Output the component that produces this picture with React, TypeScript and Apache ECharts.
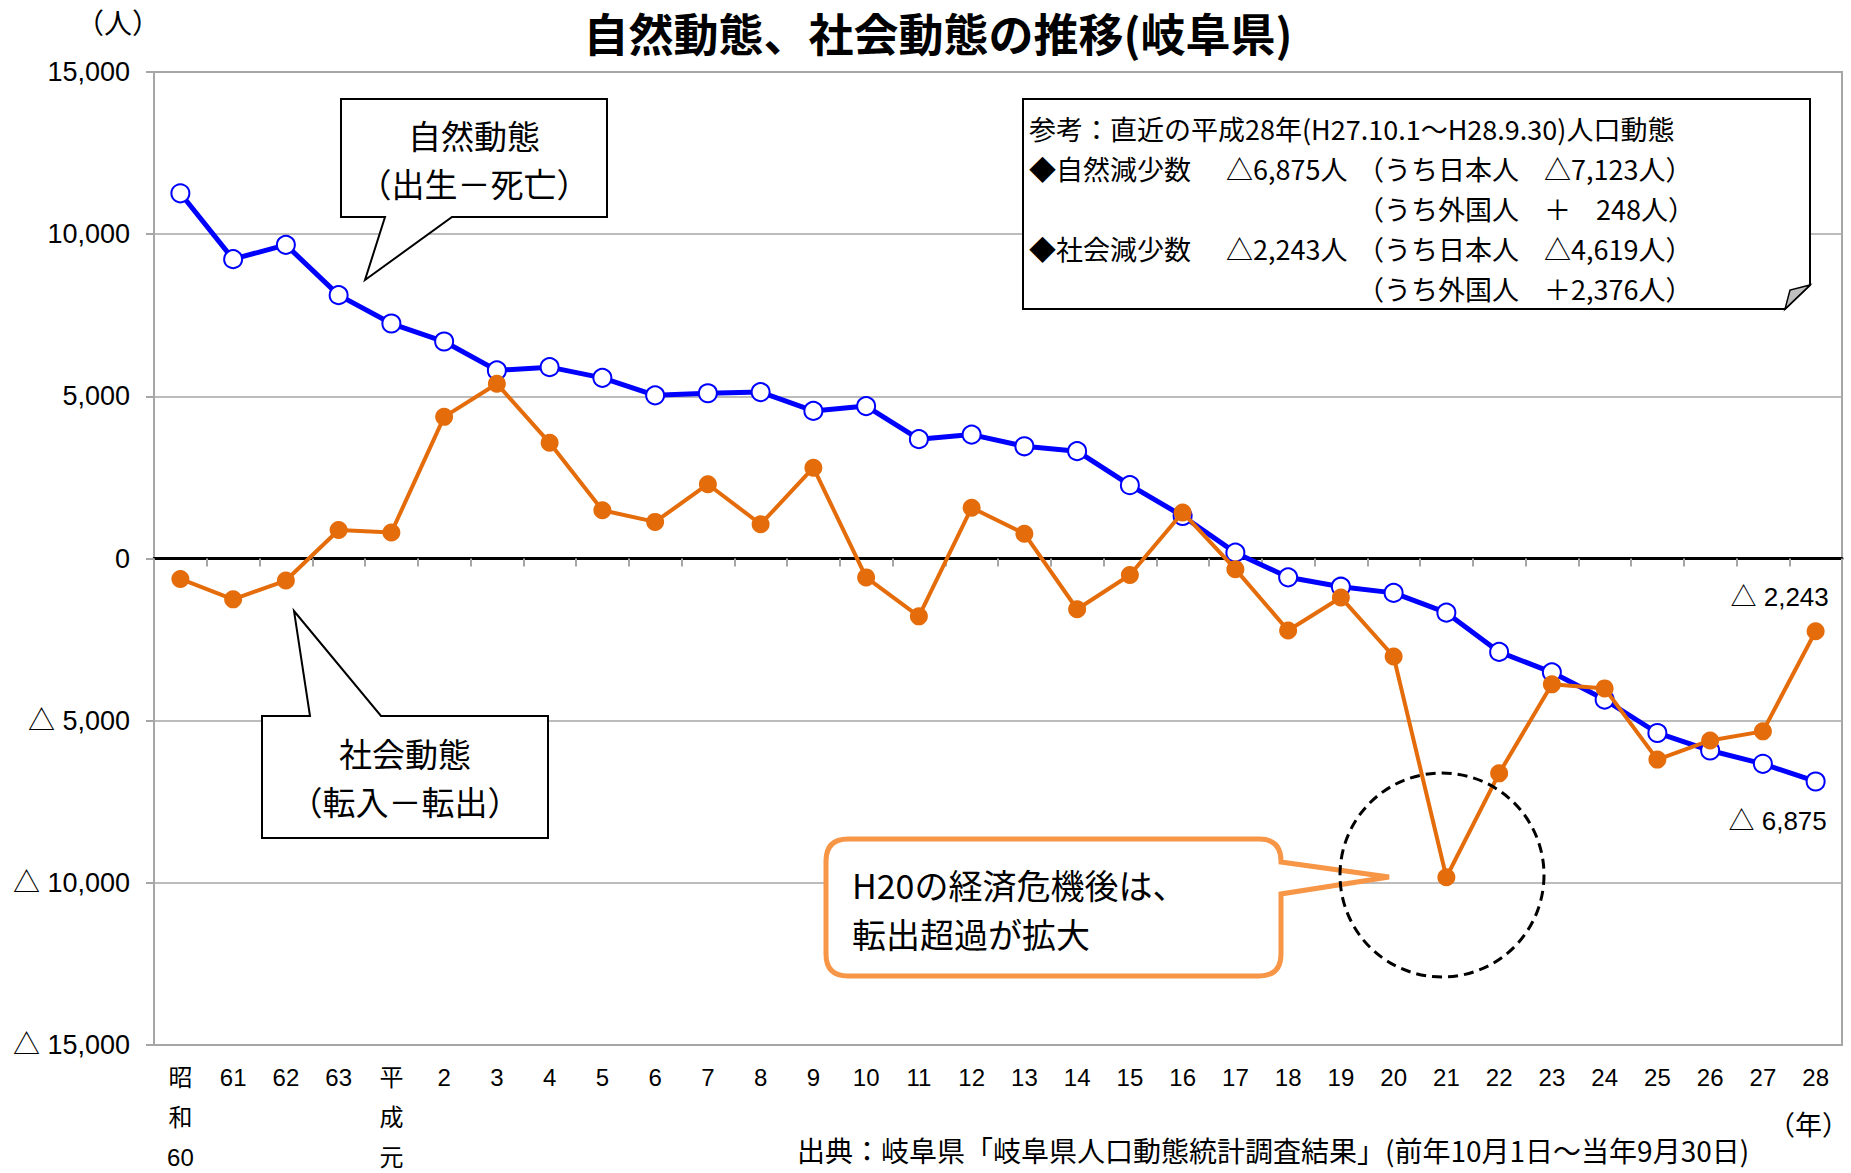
import React, { useEffect, useRef } from "react";
import * as echarts from "echarts";

const categories = [
  "昭\n和\n60", "61", "62", "63", "平\n成\n元", "2", "3", "4", "5", "6", "7", "8", "9", "10",
  "11", "12", "13", "14", "15", "16", "17", "18", "19", "20", "21", "22", "23", "24", "25",
  "26", "27", "28",
];

// 自然動態（出生－死亡）
const naturalChange = [
  11260, 9230, 9670, 8120, 7245, 6690, 5800, 5900, 5570, 5030, 5095, 5130, 4550, 4700,
  3680, 3820, 3460, 3310, 2260, 1310, 180, -580, -870, -1060, -1670, -2880, -3510, -4350,
  -5380, -5920, -6330, -6875,
];

// 社会動態（転入－転出）
const socialChange = [
  -630, -1260, -680, 877, 803, 4368, 5390, 3567, 1490, 1128, 2290, 1056, 2800, -582,
  -1784, 1565, 764, -1565, -510, 1420, -328, -2220, -1201, -3021, -9828, -6625, -3880, -4005,
  -6200, -5610, -5330, -2243,
];

const yMin = -15000;
const yMax = 15000;
const yInterval = 5000;

const titleText = "自然動態、社会動態の推移(岐阜県)";
const unitY = "（人）";
const unitX = "（年）";
const sourceText = "出典：岐阜県「岐阜県人口動態統計調査結果」(前年10月1日～当年9月30日)";
const naturalCallout = ["自然動態", "（出生－死亡）"];
const socialCallout = ["社会動態", "（転入－転出）"];
const crisisCallout = ["H20の経済危機後は、", "転出超過が拡大"];

const infoTitle = "参考：直近の平成28年(H27.10.1～H28.9.30)人口動態";
const infoNatural = ["◆自然減少数", "△6,875人", "（うち日本人", "△7,123人）"];
const infoNaturalForeign = ["（うち外国人", "＋", "248人）"];
const infoSocial = ["◆社会減少数", "△2,243人", "（うち日本人", "△4,619人）"];
const infoSocialForeign = ["（うち外国人", "＋2,376人）"];

const BLUE = "#0000FF";
const ORANGE = "#E46C0A";
const CALLOUT_ORANGE = "#F79646";
const GRID_GRAY = "#a6a6a6";
const NUM_FONT = '"Liberation Sans Narrow", "Liberation Sans", "Noto Sans CJK JP", sans-serif';
const JP_FAMILY = '"Noto Sans CJK JP", sans-serif';

const fmt = (v: number) =>
  v < 0 ? "△ " + Math.abs(v).toLocaleString("en-US") : v.toLocaleString("en-US");

const crisisPath =
  "M848,839 L1259,839 Q1281,839 1281,861 L1281,862 L1389,877 L1281,894 L1281,954 Q1281,976 1259,976 L848,976 Q826,976 826,954 L826,861 Q826,839 848,839 Z";
echarts.graphic.registerShape("crisisCallout", echarts.graphic.extendPath(crisisPath, {}) as any);

function txt(
  text: string,
  x: number,
  y: number,
  size: number,
  align = "left",
  extra: any = {}
) {
  return {
    type: "text",
    x,
    y,
    z: 110,
    style: {
      text,
      fill: "#000",
      font: `${extra.weight || "normal"} ${size}px ${JP_FAMILY}`,
      lineHeight: extra.lineHeight,
      align,
      verticalAlign: extra.va || "middle",
      textAlign: align,
      textVerticalAlign: extra.va || "middle",
    },
  };
}

export default function App() {
  const ref = useRef<HTMLDivElement>(null);

  useEffect(() => {
    document.body.style.margin = "0";
    const chart = echarts.init(ref.current!, null, { renderer: "svg" });
    const last = naturalChange.length - 1;
    const IF = 27; // info box font size
    const LH = 40;
    const rs = (width?: number, size = IF) => ({
      width,
      fontSize: size,
      fontFamily: JP_FAMILY,
      lineHeight: LH,
      color: "#000",
      align: "left",
    });

    const infoText = [
      `{t|${infoTitle}}`,
      `{a|${infoNatural[0]}}{b|${infoNatural[1]}}{c|${infoNatural[2]}}{d|${infoNatural[3]}}`,
      `{a| }{b| }{c|${infoNaturalForeign[0]}}{p|${infoNaturalForeign[1]}}{d|${infoNaturalForeign[2]}}`,
      `{a|${infoSocial[0]}}{b|${infoSocial[1]}}{c|${infoSocial[2]}}{d|${infoSocial[3]}}`,
      `{a| }{b| }{c|${infoSocialForeign[0]}}{d|${infoSocialForeign[1]}}`,
    ].join("\n");

    const option: any = {
      animation: false,
      backgroundColor: "#fff",
      grid: {
        left: 154,
        right: 9,
        top: 72,
        bottom: 128,
        show: true,
        borderColor: GRID_GRAY,
        borderWidth: 2,
        containLabel: false,
        outerBoundsMode: "none",
      },
      xAxis: [
        {
          type: "category",
          data: categories,
          position: "bottom",
          boundaryGap: true,
          axisLine: { show: false, onZero: false },
          axisTick: { show: false },
          splitLine: { show: false },
          axisLabel: {
            interval: 0,
            margin: 12,
            fontSize: 24,
            lineHeight: 40,
            color: "#000",
            fontFamily: NUM_FONT,
            verticalAlign: "top",
          },
        },
        {
          type: "category",
          data: categories,
          position: "bottom",
          boundaryGap: true,
          axisLine: { show: true, onZero: true, lineStyle: { color: "#000", width: 3 } },
          axisTick: { show: true, inside: false, length: 8, lineStyle: { color: GRID_GRAY, width: 2 } },
          axisLabel: { show: false },
          splitLine: { show: false },
        },
      ],
      yAxis: {
        type: "value",
        min: yMin,
        max: yMax,
        interval: yInterval,
        axisLine: { show: false },
        axisTick: { show: true, length: 8, lineStyle: { color: GRID_GRAY, width: 2 } },
        splitLine: { show: true, lineStyle: { color: GRID_GRAY, width: 1.5 } },
        axisLabel: {
          formatter: (v: number) => fmt(v),
          fontSize: 27,
          color: "#000",
          margin: 24,
          fontFamily: NUM_FONT,
        },
      },
      series: [
        {
          name: "自然動態",
          type: "line",
          xAxisIndex: 0,
          data: naturalChange.map((v, i) =>
            i === last
              ? {
                  value: v,
                  label: {
                    show: true,
                    position: "bottom",
                    distance: 17,
                    offset: [-38, 0],
                    formatter: (p: any) => fmt(p.value),
                    fontSize: 26,
                    color: "#000",
                    fontFamily: NUM_FONT,
                  },
                }
              : v
          ),
          symbol: "circle",
          symbolSize: 18,
          lineStyle: { color: BLUE, width: 5 },
          itemStyle: { color: "#fff", borderColor: BLUE, borderWidth: 2 },
          z: 3,
        },
        {
          name: "社会動態",
          type: "line",
          xAxisIndex: 0,
          data: socialChange.map((v, i) =>
            i === last
              ? {
                  value: v,
                  label: {
                    show: true,
                    position: "top",
                    distance: 12,
                    offset: [-36, 0],
                    formatter: (p: any) => fmt(p.value),
                    fontSize: 26,
                    color: "#000",
                    fontFamily: NUM_FONT,
                  },
                }
              : v
          ),
          symbol: "circle",
          symbolSize: 18,
          lineStyle: { color: ORANGE, width: 4 },
          itemStyle: { color: ORANGE, borderColor: ORANGE, borderWidth: 0 },
          z: 4,
        },
      ],
      graphic: [
        txt(titleText, 938, 32, 45, "center", { weight: "bold" }),
        txt(unitY, 118, 22, 28, "center"),
        txt(unitX, 1849, 1123, 27, "right"),
        txt(sourceText, 797, 1150, 28, "left"),
        // 自然動態 callout
        {
          type: "polygon",
          z: 100,
          shape: {
            points: [
              [341, 99], [607, 99], [607, 217], [452, 217], [365, 280], [385, 217], [341, 217],
            ],
          },
          style: { fill: "#fff", stroke: "#000", lineWidth: 2 },
        },
        txt(naturalCallout.join("\n"), 474, 159, 33, "center", { lineHeight: 48 }),
        // 社会動態 callout
        {
          type: "polygon",
          z: 100,
          shape: {
            points: [
              [262, 716], [310, 716], [294, 611], [381, 716], [548, 716], [548, 838], [262, 838],
            ],
          },
          style: { fill: "#fff", stroke: "#000", lineWidth: 2 },
        },
        txt(socialCallout.join("\n"), 405, 777, 33, "center", { lineHeight: 48 }),
        // info box
        {
          type: "polygon",
          z: 100,
          shape: {
            points: [[1023, 99], [1810, 99], [1810, 285], [1785, 309], [1023, 309]],
          },
          style: { fill: "#fff", stroke: "#000", lineWidth: 2 },
        },
        {
          type: "polygon",
          z: 101,
          shape: { points: [[1810, 285], [1785, 309], [1790, 290]] },
          style: { fill: "#bfbfbf", stroke: "#000", lineWidth: 1.5 },
        },
        {
          type: "text",
          x: 1029,
          y: 108,
          z: 110,
          style: {
            text: infoText,
            fill: "#000",
            font: `${IF}px ${JP_FAMILY}`,
            lineHeight: LH,
            align: "left",
            verticalAlign: "top",
            textAlign: "left",
            textVerticalAlign: "top",
            rich: {
              t: rs(undefined),
              a: rs(197),
              b: rs(131),
              c: rs(187),
              p: rs(52),
              d: rs(undefined),
            },
          },
        },
        // H20 callout
        {
          type: "crisisCallout",
          z: 100,
          style: { fill: "#fff", stroke: CALLOUT_ORANGE, lineWidth: 5 },
        },
        txt(crisisCallout.join("\n"), 852, 909, 34, "left", { lineHeight: 49 }),
        // dashed circle
        {
          type: "circle",
          z: 100,
          shape: { cx: 1442, cy: 875, r: 102 },
          style: { fill: "transparent", stroke: "#000", lineWidth: 3, lineDash: [10, 6] },
        },
      ],
    };

    chart.setOption(option);
    return () => chart.dispose();
  }, []);

  return <div ref={ref} style={{ width: 1851, height: 1173 }} />;
}
